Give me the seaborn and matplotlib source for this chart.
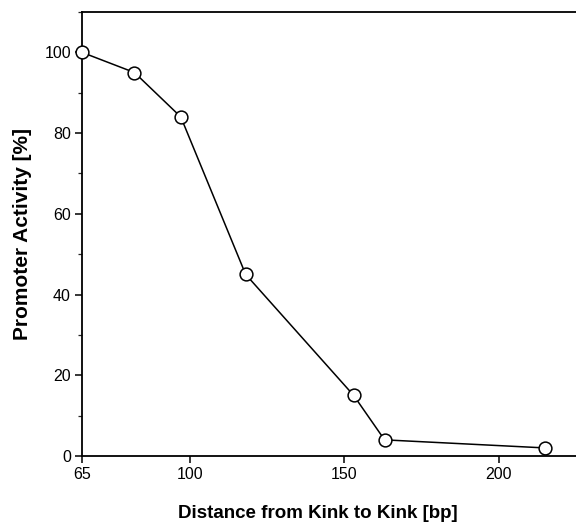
import matplotlib
matplotlib.use("Agg")
import matplotlib.pyplot as plt
import seaborn as sns
import pandas as pd
from matplotlib.ticker import MultipleLocator

# values
distance_bp = [65, 82, 97, 118, 153, 163, 215]
activity_pct = [100, 95, 84, 45, 15, 4, 2]
x_ticks = [65, 100, 150, 200]
y_ticks = [0, 20, 40, 60, 80, 100]

df = pd.DataFrame({"distance": distance_bp, "activity": activity_pct})

sns.set_theme(style="ticks")
plt.rcParams["font.family"] = ["Liberation Sans", "DejaVu Sans"]

fig = plt.figure(figsize=(5.76, 5.22), dpi=100)
ax = fig.add_axes([82 / 576, 1 - 456 / 522, 1 - 82 / 576, 444 / 522])

sns.lineplot(data=df, x="distance", y="activity", ax=ax, color="black",
             linewidth=1.1, marker="o", markersize=9.2,
             markerfacecolor="white", markeredgecolor="black",
             markeredgewidth=1.1, clip_on=False, zorder=3)

ax.set_xlim(65, 225)
ax.set_ylim(0, 110)
ax.set_xticks(x_ticks)
ax.set_xticklabels([str(t) for t in x_ticks])
ax.set_yticks(y_ticks)
ax.set_yticklabels([str(t) for t in y_ticks])
ax.yaxis.set_minor_locator(MultipleLocator(10))

ax.spines["right"].set_visible(False)
for s in ["left", "bottom", "top"]:
    ax.spines[s].set_linewidth(1.3)
    ax.spines[s].set_color("black")

ax.tick_params(axis="both", which="major", direction="out", length=5,
               width=1.1, labelsize=11.5, colors="black", pad=3)
ax.tick_params(axis="y", which="minor", direction="out", length=3, width=0.9)

ax.set_xlabel("Distance from Kink to Kink [bp]", fontsize=13.5,
              fontweight="bold", color="black", labelpad=14)
ax.xaxis.set_label_coords(0.478, -0.11)
ax.set_ylabel("Promoter Activity [%]", fontsize=15, fontweight="bold",
              color="black", labelpad=9)
ax.grid(False)

fig.savefig("out.png", dpi=100, facecolor="white")
